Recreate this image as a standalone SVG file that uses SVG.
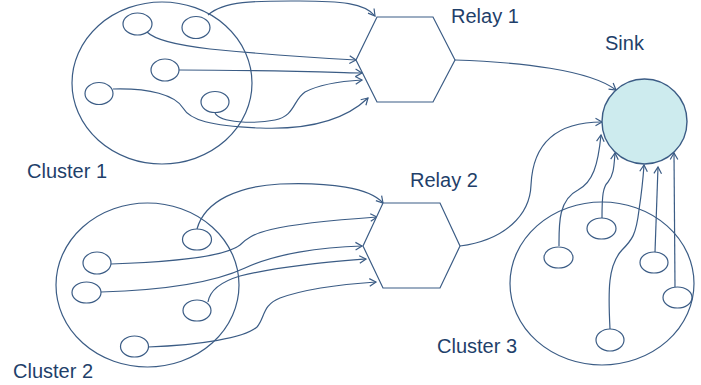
<svg xmlns="http://www.w3.org/2000/svg" width="701" height="385" viewBox="0 0 701 385">
<style>
.ln{fill:none;stroke:#3B5C85;stroke-width:1.2}
.cl{fill:none;stroke:#3B5C85;stroke-width:1.2}
.nd{fill:none;stroke:#3B5C85;stroke-width:1.2}
.rl{fill:#fff;stroke:#3B5C85;stroke-width:1.2}
.sk{fill:#CDEBEE;stroke:#3B5C85;stroke-width:1.4}
.tx{font-family:"Liberation Sans",Arial,sans-serif;font-size:20px;fill:#1F3F6A}
</style>
<defs>
<marker id="arr" viewBox="-8 -5 10 10" refX="0" refY="0" markerWidth="10" markerHeight="10" markerUnits="userSpaceOnUse" orient="auto">
<path d="M-6.5,-3.8 L0,0 L-6.5,3.8" fill="none" stroke="#3B5C85" stroke-width="1.2"/>
</marker>
</defs>
<rect width="701" height="385" fill="#fff"/>
<g id="cluster1"><ellipse class="cl" cx="162" cy="83" rx="90" ry="81"/><text class="tx" x="27" y="178">Cluster 1</text></g>
<g id="cluster2"><ellipse class="cl" cx="147.5" cy="285" rx="91.5" ry="82"/><text class="tx" x="13" y="378">Cluster 2</text></g>
<g id="cluster3"><ellipse class="cl" cx="602" cy="283.5" rx="92" ry="81.5"/><text class="tx" x="437" y="353">Cluster 3</text></g>
<g id="connectors" class="ln" marker-end="url(#arr)">
<path class="ln" marker-end="url(#arr)" d="M208,15 C225,0 260,1 300,1 C340,1 365,3 375,16"/>
<path class="ln" marker-end="url(#arr)" d="M147,32 C155,40 175,45 210,49 C260,54 320,58 356,60"/>
<path class="ln" marker-end="url(#arr)" d="M179,70 C250,70 320,72 362,73"/>
<path class="ln" marker-end="url(#arr)" d="M215,113 C220,123 255,124 275,120 C295,116 293,100 305,92 C320,84 345,81 362,80"/>
<path class="ln" marker-end="url(#arr)" d="M113,89 C150,88 175,95 183,108 C190,120 210,126 260,128 C310,130 345,120 368,98"/>
<path class="ln" marker-end="url(#arr)" d="M455,60 C520,62 590,70 616,90"/>
<path class="ln" marker-end="url(#arr)" d="M460,246 C505,240 530,215 531,185 C533,140 560,122 602,122"/>
<path class="ln" marker-end="url(#arr)" d="M197,229 C205,200 240,186 280,184 C330,182 370,188 383,203"/>
<path class="ln" marker-end="url(#arr)" d="M111,264 C170,262 225,257 240,245 C252,233 265,225 377,217"/>
<path class="ln" marker-end="url(#arr)" d="M101,292 C170,290 215,282 245,268 C275,254 320,247 362,246"/>
<path class="ln" marker-end="url(#arr)" d="M208,302 C210,290 220,282 240,276 C280,266 330,262 366,259"/>
<path class="ln" marker-end="url(#arr)" d="M148,347 C200,345 245,338 257,327 C265,318 262,305 280,298 C305,289 345,284 376,282"/>
<path class="ln" marker-end="url(#arr)" d="M559,246 C559,225 558,200 578,190 C593,182 598,165 601,135"/>
<path class="ln" marker-end="url(#arr)" d="M602,218 C602,195 603,187 608,182 C614,175 614,165 615,153"/>
<path class="ln" marker-end="url(#arr)" d="M610,329 C608,290 608,265 622,250 C632,240 636,235 639,210 C642,190 643,180 644,165"/>
<path class="ln" marker-end="url(#arr)" d="M655,252 C656,220 657,190 658,167"/>
<path class="ln" marker-end="url(#arr)" d="M675,287 L674,153"/>
</g>
<g id="c1n1"><ellipse class="nd" cx="137.5" cy="24" rx="14.5" ry="11"/></g>
<g id="c1n2"><ellipse class="nd" cx="196" cy="27.5" rx="14" ry="11"/></g>
<g id="c1n3"><ellipse class="nd" cx="165" cy="70" rx="14" ry="11"/></g>
<g id="c1n4"><ellipse class="nd" cx="99" cy="93.5" rx="14" ry="11"/></g>
<g id="c1n5"><ellipse class="nd" cx="215" cy="102" rx="14" ry="10.5"/></g>
<g id="c2n1"><ellipse class="nd" cx="197" cy="239.5" rx="14.5" ry="10.5"/></g>
<g id="c2n2"><ellipse class="nd" cx="97" cy="263" rx="14" ry="11"/></g>
<g id="c2n3"><ellipse class="nd" cx="86.5" cy="292.5" rx="14.5" ry="10.5"/></g>
<g id="c2n4"><ellipse class="nd" cx="197" cy="310.5" rx="14" ry="10.5"/></g>
<g id="c2n5"><ellipse class="nd" cx="134.5" cy="346.5" rx="14" ry="10.5"/></g>
<g id="c3n1"><ellipse class="nd" cx="558.5" cy="257.5" rx="14.5" ry="10.5"/></g>
<g id="c3n2"><ellipse class="nd" cx="601.5" cy="228.5" rx="14.5" ry="10.5"/></g>
<g id="c3n3"><ellipse class="nd" cx="654" cy="262.5" rx="14" ry="10.5"/></g>
<g id="c3n4"><ellipse class="nd" cx="677.5" cy="297.5" rx="14.5" ry="10.5"/></g>
<g id="c3n5"><ellipse class="nd" cx="610" cy="340" rx="14" ry="11"/></g>
<g id="relay1"><polygon class="rl" points="356,60 377,17 433,17 455,60 433,102 377,102"/><text class="tx" x="451" y="23">Relay 1</text></g>
<g id="relay2"><polygon class="rl" points="363,246 383,203 440,203 460,246 440,288 383,288"/><text class="tx" x="410" y="187">Relay 2</text></g>
<g id="sink"><circle class="sk" cx="644.5" cy="121.5" r="42.5"/><text class="tx" x="605" y="50">Sink</text></g>
</svg>
